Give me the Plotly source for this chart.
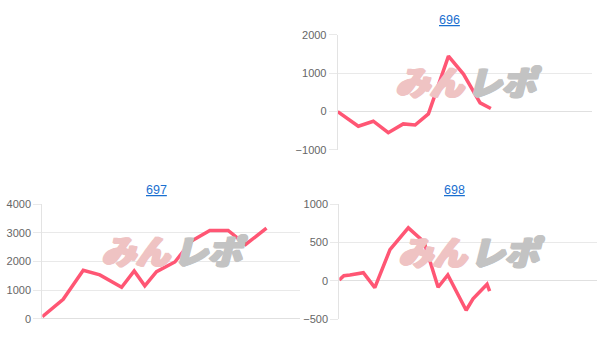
import plotly.graph_objects as go

# ---- data (x = game count, y = difference) ----
titles = ["696", "697", "698"]

x696 = [0, 730, 1260, 1790, 2320, 2740, 3210, 3920, 4450, 5040, 5420]
y696 = [0, -380, -250, -550, -320, -350, -60, 1450, 980, 230, 80]

x697 = [0, 730, 1430, 2010, 2770, 3210, 3580, 3990, 4630, 5210, 5850, 6490, 7100, 7830]
y697 = [70, 680, 1690, 1530, 1100, 1670, 1150, 1640, 1980, 2710, 3080, 3080, 2590, 3160]

x698 = [0, 160, 370, 840, 1240, 1770, 2410, 2960, 3450, 3790, 4430, 4670, 5160, 5250]
y698 = [10, 65, 75, 105, -90, 405, 690, 505, -85, 76, -385, -235, -45, -135]

yranges = [[-1000, 2000], [0, 4000], [-500, 1000]]
ydticks = [1000, 1000, 500]
xmax = 9000

W, H = 604, 355
# plot areas in pixels: (left, right, top, bottom)
areas = [(337.7, 592, 30, 149), (42.3, 300, 205, 323.7), (339.3, 597, 205, 324)]
title_pos = [(449, 14.3), (156.7, 190), (454, 190)]

LINE = "#ff5674"
GRID = "#e9e9e9"
PINK = "#efc3c3"
GRAY = "#c3c3c3"


def heavy(c):
    return ", ".join(f"{dx}px {dy}px 0px {c}" for dx, dy in
                     [(1, 0), (2, 0), (0, 1), (1, 1), (2, 1), (-1, 0)])


fig = go.Figure()
series = [(x696, y696), (x697, y697), (x698, y698)]

layout = dict(width=W, height=H, margin=dict(l=0, r=0, t=0, b=0),
              paper_bgcolor="white", plot_bgcolor="white", showlegend=False,
              font=dict(family="Liberation Sans, Arial, sans-serif"))
annotations = []
for i in range(3):
    sfx = "" if i == 0 else str(i + 1)
    l, r, t, b = areas[i]
    layout["xaxis" + sfx] = dict(domain=[l / W, r / W], range=[0, xmax],
                                 showticklabels=False, showgrid=False,
                                 zeroline=False, showline=False, ticks="",
                                 anchor="y" + sfx, fixedrange=True)
    layout["yaxis" + sfx] = dict(domain=[1 - b / H, 1 - t / H], range=yranges[i],
                                 dtick=ydticks[i], tick0=0,
                                 showgrid=True, gridcolor=GRID, gridwidth=1,
                                 zeroline=True, zerolinecolor="#e0e0e0", zerolinewidth=1.2,
                                 showline=True, linecolor="#e3e3e3", linewidth=1,
                                 ticks="outside", ticklen=8, tickcolor=GRID,
                                 tickfont=dict(size=11, color="#666666",
                                               family="Liberation Sans, Arial, sans-serif"),
                                 anchor="x" + sfx, fixedrange=True)
    tx, ty = title_pos[i]
    annotations.append(dict(text="<u>" + titles[i] + "</u>", x=tx / W, y=1 - ty / H,
                            xref="paper", yref="paper", showarrow=False,
                            xanchor="center", yanchor="middle",
                            font=dict(size=12.5, color="#1a6fd0",
                                      family="Liberation Sans, Arial, sans-serif")))
    # watermark
    annotations.append(dict(
        text="<i>みん</i>", x=0.50, y=0.60,
        xref="x" + sfx + " domain", yref="y" + sfx + " domain",
        xanchor="right", yanchor="middle", xshift=0, showarrow=False, borderpad=0,
        font=dict(size=34, family="Noto Sans CJK JP", color=PINK, weight=900,
                  shadow=heavy(PINK))))
    annotations.append(dict(
        text="<i>レポ</i>", x=0.50, y=0.60,
        xref="x" + sfx + " domain", yref="y" + sfx + " domain",
        xanchor="left", yanchor="middle", xshift=1, showarrow=False, borderpad=0,
        font=dict(size=34, family="Noto Sans CJK JP", color=GRAY, weight=900,
                  shadow=heavy(GRAY))))

for i, (xs, ys) in enumerate(series):
    sfx = "" if i == 0 else str(i + 1)
    fig.add_trace(go.Scatter(x=xs, y=ys, mode="lines",
                             line=dict(color=LINE, width=3.5),
                             xaxis="x" + sfx, yaxis="y" + sfx,
                             hoverinfo="skip", showlegend=False))

layout["annotations"] = annotations
fig.update_layout(**layout)
fig.write_html("out.html")
